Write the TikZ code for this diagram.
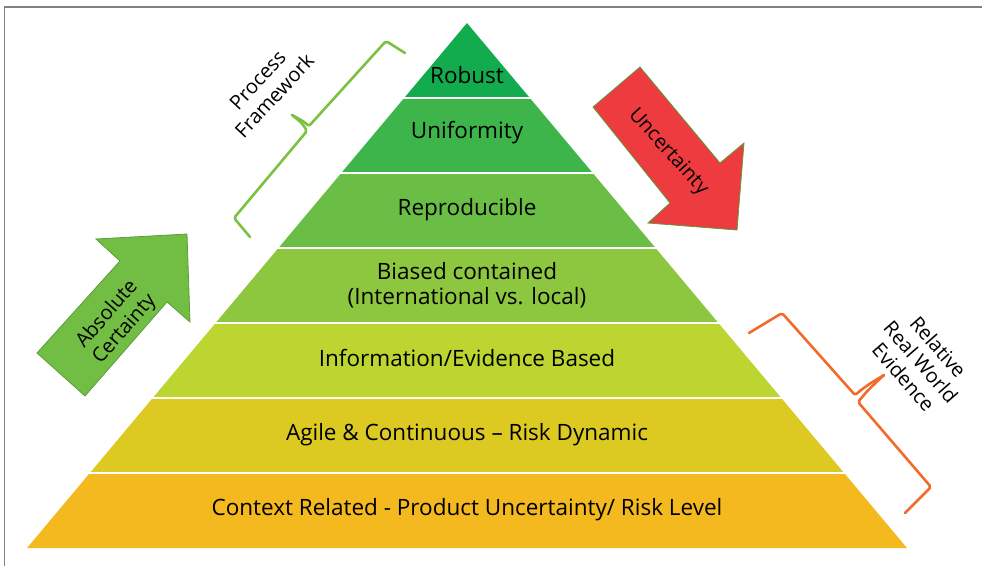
\documentclass[tikz,border=0pt]{standalone}
\usepackage{fontspec}
\setmainfont{Open Sans}
\definecolor{cA}{HTML}{12AB4E}
\definecolor{cB}{HTML}{3DB54A}
\definecolor{cC}{HTML}{6ABD45}
\definecolor{cD}{HTML}{8DC63F}
\definecolor{cE}{HTML}{BCD530}
\definecolor{cF}{HTML}{DCCA22}
\definecolor{cG}{HTML}{F4B91E}
\definecolor{arrG}{HTML}{72BE44}
\definecolor{arrGl}{HTML}{5A9E3A}
\definecolor{arrR}{HTML}{EE3B3F}
\definecolor{braceG}{HTML}{7DC142}
\definecolor{braceO}{HTML}{F26B2A}
\definecolor{frameC}{HTML}{808080}
\begin{document}
\begin{tikzpicture}[x=1pt,y=-1pt,
  lvl/.style={font=\fontsize{22.5}{25}\selectfont, align=center, text=black, inner sep=1pt},
  side/.style={font=\fontsize{20}{23}\selectfont, align=center, text=black, inner sep=1pt},
  bracestyle/.style={line width=2.6pt, line cap=round, line join=round, rounded corners=2pt}]
\useasboundingbox (0,0) rectangle (982,566);
% frame
\draw[frameC, line width=1.5pt] (4.5,566) -- (4.5,7) -- (982,7);
% pyramid layers
\foreach \i/\col in {0/cA,1/cB,2/cC,3/cD,4/cE,5/cF,6/cG}{
  \pgfmathsetmacro\yt{23+75*\i}
  \pgfmathsetmacro\yb{23+75*(\i+1)}
  \pgfmathsetmacro\wt{(\yt-23)/525*440}
  \pgfmathsetmacro\wb{(\yb-23)/525*440}
  \fill[\col] ({467-\wt},\yt) -- ({467+\wt},\yt) -- ({467+\wb},\yb) -- ({467-\wb},\yb) -- cycle;
}
\foreach \i in {1,...,6}{
  \pgfmathsetmacro\yy{23+75*\i}
  \draw[white, line width=2.5pt] (20,\yy) -- (914,\yy);
}
% layer labels
\node[lvl] (l1) at (467,75) {Robust};
\node[lvl] (l2) at (467,133) {Uniformity};
\node[lvl] (l3) at (467,210) {Reproducible};
\node[lvl] (l4) at (467,285) {Biased contained\\(International vs. local)};
\node[lvl] (l5) at (467,358) {Information/Evidence Based};
\node[lvl] (l6) at (467,435) {Agile \& Continuous – Risk Dynamic};
\node[lvl] (l7) at (467,510) {Context Related - Product Uncertainty/ Risk Level};
% green arrow
\filldraw[fill=arrG, draw=arrGl, line width=0.8pt] (37,353) -- (120,261) -- (96,239) -- (187,234) -- (190,322) -- (167,302) -- (85,396) -- cycle;
\node[side, rotate=49] (absc) at (116,322) {Absolute\\Certainty};
% red arrow
\filldraw[fill=arrR, draw=arrGl, line width=0.8pt] (593,107) -- (640,67) -- (720,163) -- (744,143) -- (737,230) -- (648,223) -- (670,203) -- cycle;
\node[side, rotate=-48] (unc) at (668,152) {Uncertainty};
% green brace
\draw[braceG, bracestyle] (405,53) -- (386,41) -- (309,126) .. controls (303,121) .. (292,115);
\draw[braceG, bracestyle] (292,115) .. controls (302,123) .. (307,131) -- (234,218) -- (250,237);
\node[side, rotate=47] (pf) at (266,88) {Process\\Framework};
% orange brace
\draw[braceO, bracestyle] (749,333) -- (782,313) -- (855,395) .. controls (866,386) .. (884,375);
\draw[braceO, bracestyle] (884,375) .. controls (868,390) .. (858,402) -- (931,487) -- (905,513);
\node[side, rotate=-49] (rwe) at (921,362) {Relative\\Real World\\Evidence};
\end{tikzpicture}
\end{document}
